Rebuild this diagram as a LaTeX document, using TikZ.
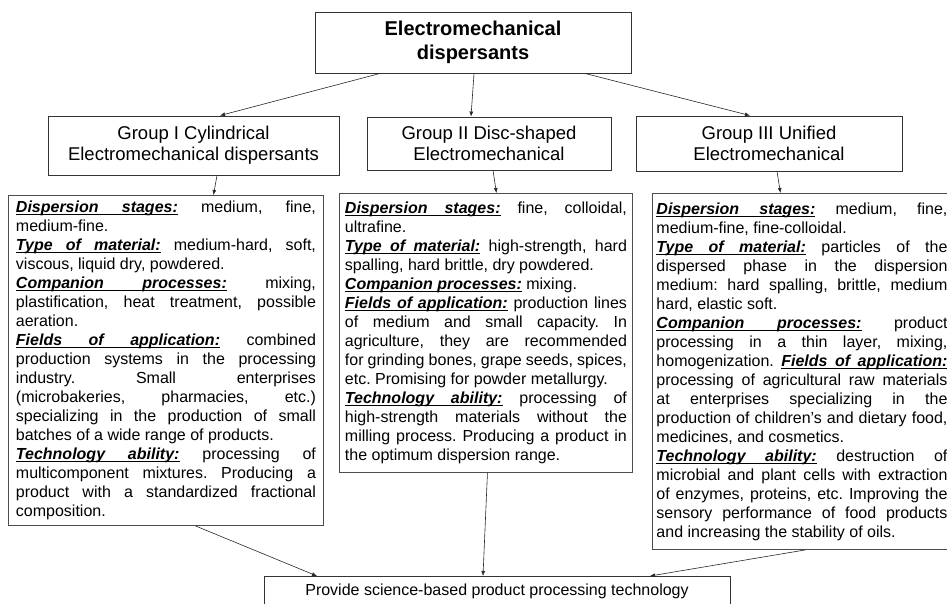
\documentclass[tikz,border=0pt]{standalone}
\usepackage{fontspec}
\setmainfont{Liberation Sans}
\usetikzlibrary{arrows.meta}
% underlined bold italic words, and an underlined stretchable space
\newcommand{\uw}[1]{{\bfseries\itshape\setbox0\hbox{#1}\rlap{\rule[-2.4pt]{\wd0}{0.9pt}}\box0}}
\newcommand{\us}{\leaders\hrule height -1.5pt depth 2.4pt\hskip\fontdimen2\font plus\fontdimen3\font minus\fontdimen4\font}
\hyphenpenalty=10000
\exhyphenpenalty=10000
\tolerance=9999
\emergencystretch=20pt
\frenchspacing
\begin{document}
\begin{tikzpicture}[x=1pt, y=-1pt, >={Latex[length=5pt,width=4pt]},
  box/.style={draw=black!80, line width=0.9pt, align=center, font=\fontsize{18.5}{21}\selectfont},
  detail/.style={draw=black!70, line width=0.9pt, anchor=north west, align=justify, inner ysep=0pt, font=\fontsize{16}{19}\selectfont},
  link/.style={->, line width=0.6pt, black!85}]
\useasboundingbox (0,0) rectangle (947,604);
\draw(473,42.5) node[box, minimum width=316pt, minimum height=61pt, font=\bfseries\fontsize{20}{24}\selectfont] (top) {Electromechanical\\dispersants};
\draw(193.5,145.5) node[box, minimum width=291pt, minimum height=59pt] (g1) {Group I Cylindrical\\Electromechanical dispersants};
\draw(489,143.5) node[box, minimum width=244pt, minimum height=53pt] (g2) {Group II Disc-shaped\\Electromechanical};
\draw(769,143.5) node[box, minimum width=266pt, minimum height=55pt] (g3) {Group III Unified\\Electromechanical};
\draw[link] ([xshift=-93pt]top.south) -- ([xshift=26.5pt]g1.north);
\draw[link] ([xshift=1pt]top.south) -- ([xshift=-18pt]g2.north);
\draw[link] ([xshift=112pt]top.south) -- ([xshift=-19pt]g3.north);
\draw(8,195) node[detail, text width=300pt, inner xsep=7.5pt, minimum height=330pt] (d1) {\uw{Dispersion}\us\uw{stages:} medium, fine, medium-fine.\\
\uw{Type}\us\uw{of}\us\uw{material:} medium-hard, soft, viscous, liquid dry, powdered.\\
\uw{Companion}\us\uw{processes:} mixing, plastification, heat treatment, possible aeration.\\
\uw{Fields}\us\uw{of}\us\uw{application:} combined\linebreak production systems in the processing\linebreak industry. Small enterprises\linebreak (microbakeries, pharmacies, etc.)\linebreak specializing in the production of small\linebreak batches of a wide range of products.\\
\uw{Technology}\us\uw{ability:} processing of multicomponent mixtures. Producing a product with a standardized fractional composition.};
\draw(339,193) node[detail, text width=282pt, inner xsep=5.5pt, minimum height=279pt] (d2) {\uw{Dispersion}\us\uw{stages:} fine, colloidal, ultrafine.\\
\uw{Type}\us\uw{of}\us\uw{material:} high-strength, hard spalling, hard brittle, dry powdered.\\
\uw{Companion}\us\uw{processes:} mixing.\\
\uw{Fields}\us\uw{of}\us\uw{application:} production lines\linebreak of medium and small capacity. In agriculture, they are recommended for grinding bones, grape seeds, spices, etc. Promising for powder metallurgy.\\
\uw{Technology}\us\uw{ability:} processing of\linebreak high-strength materials without the\linebreak milling process. Producing a product in\linebreak the optimum dispersion range.};
\draw(652,193) node[detail, text width=291pt, inner xsep=4pt, minimum height=356pt] (d3) {\uw{Dispersion}\us\uw{stages:} medium, fine, medium-fine, fine-colloidal.\\
\uw{Type}\us\uw{of}\us\uw{material:} particles of the dispersed phase in the dispersion medium: hard spalling, brittle, medium hard, elastic soft.\\
\uw{Companion}\us\uw{processes:} product processing in a thin layer, mixing, homogenization. \uw{Fields}\us\uw{of}\us\uw{application:} processing of agricultural raw materials\linebreak at enterprises specializing in the\linebreak production of children's and dietary food,\linebreak medicines, and cosmetics.\\
\uw{Technology}\us\uw{ability:} destruction of microbial and plant cells with extraction of enzymes, proteins, etc. Improving the sensory performance of food products and increasing the stability of oils.};
\draw[link] ([xshift=23.5pt]g1.south) -- ([xshift=47.5pt]d1.north);
\draw[link] ([xshift=4pt]g2.south) -- ([xshift=10.5pt]d2.north);
\draw[link] ([xshift=8pt]g3.south) -- ([xshift=-21.5pt]d3.north);
\draw(497,576) node[box, anchor=north, minimum width=466pt, minimum height=30pt, font=\fontsize{16}{19}\selectfont] (res) {Provide science-based product processing technology};
\draw[link] ([xshift=29.5pt]d1.south) -- ([xshift=-180pt]res.north);
\draw[link] ([xshift=1.5pt]d2.south) -- ([xshift=-14pt]res.north);
\draw[link] ([xshift=3.5pt]d3.south) -- ([xshift=153pt]res.north);
\end{tikzpicture}
\end{document}
